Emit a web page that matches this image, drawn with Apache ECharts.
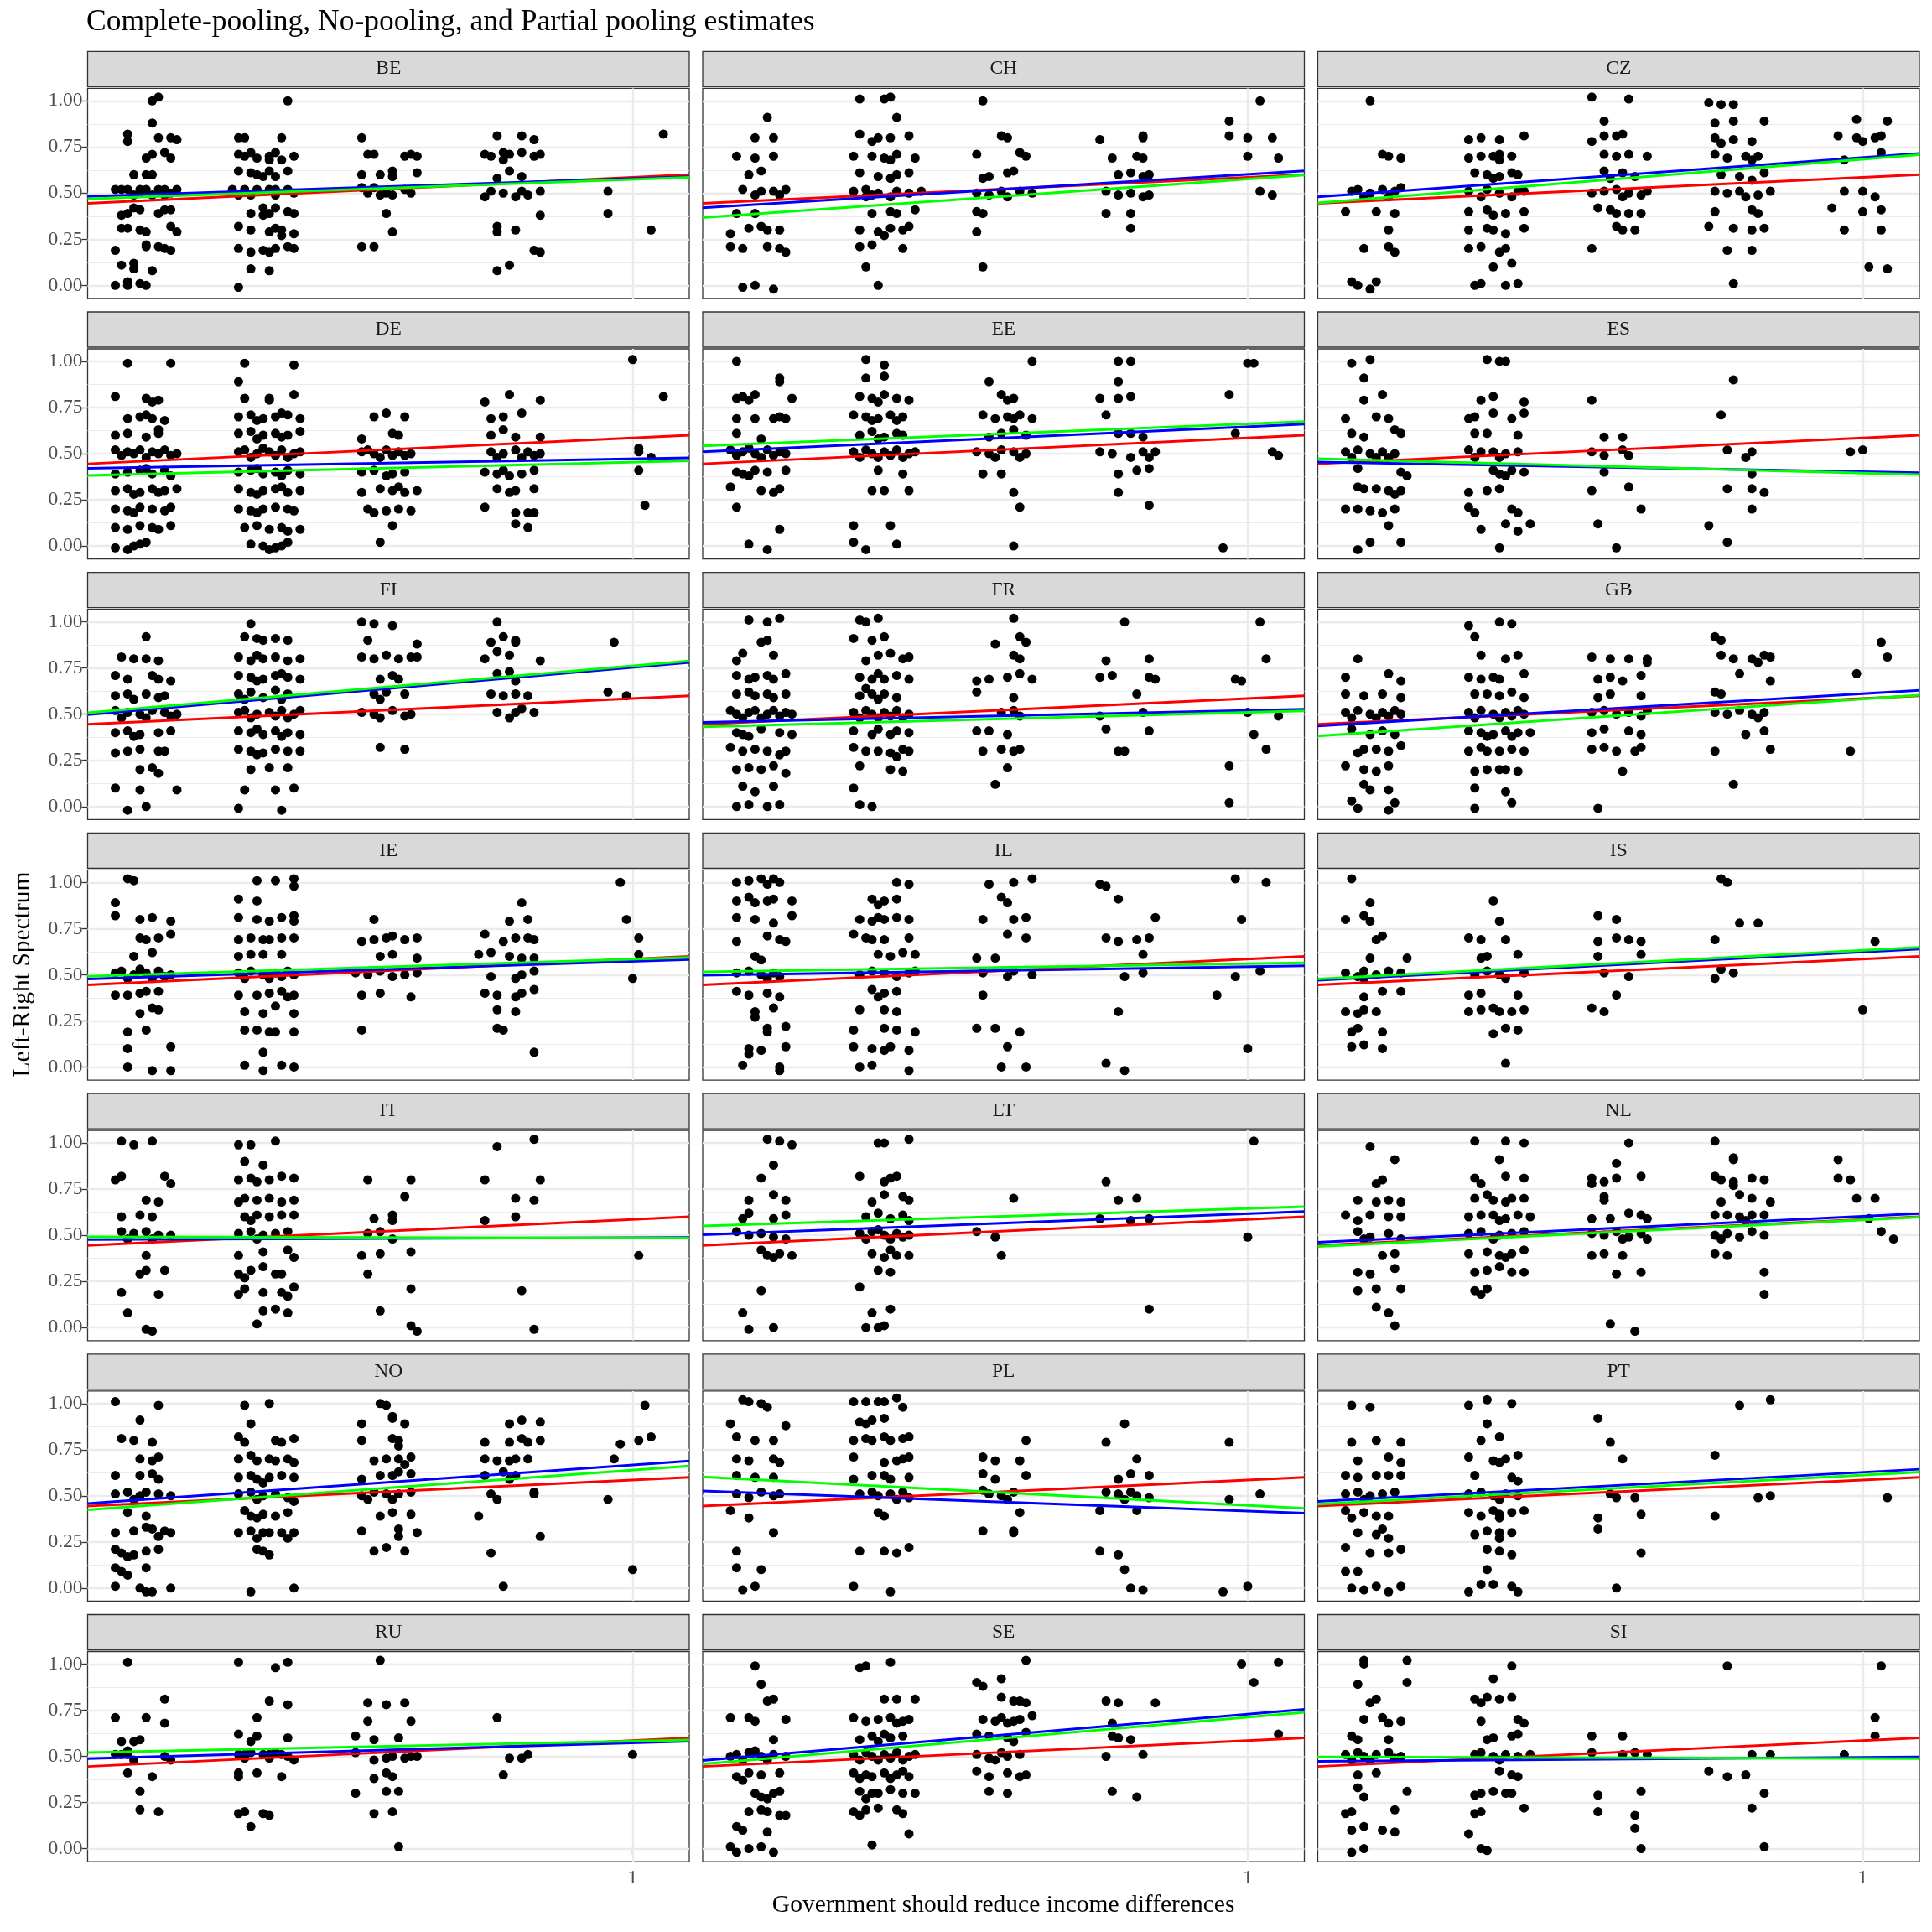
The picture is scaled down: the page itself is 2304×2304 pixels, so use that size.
<!DOCTYPE html>
<html><head><meta charset="utf-8">
<script src="https://cdn.jsdelivr.net/npm/echarts@6/dist/echarts.min.js"></script>
<style>html,body{margin:0;padding:0;background:#fff}#c{width:2304px;height:2304px}</style>
</head><body><div id="c"></div>
<script>
const countries = ['BE','CH','CZ','DE','EE','ES','FI','FR','GB','IE','IL','IS','IT','LT','NL','NO','PL','PT','RU','SE','SI'];

const P_BE = [[.22,1.0],[.23,1.02],[.22,.88],[.18,.82],[.18,.78],[.23,.80],[.25,.80],[.26,.79],[.21,.69],[.22,.71],[.24,.72],[.25,.69],[.19,.60],[.21,.60],[.22,.60],
[.16,.52],[.17,.52],[.18,.52],[.20,.52],[.21,.52],[.23,.52],[.24,.52],[.26,.52],[.19,.49],[.22,.49],[.24,.49],[.2,.5],[.25,.5],
[.18,.39],[.19,.42],[.2,.41],[.23,.39],[.24,.41],[.25,.41],[.17,.38],[.17,.31],[.18,.31],[.2,.3],[.25,.32],[.26,.29],[.21,.29],
[.16,.19],[.21,.21],[.21,.22],[.23,.21],[.24,.2],[.25,.19],[.17,.11],[.19,.09],[.22,.08],[.19,.12],[.16,0],[.18,0],[.18,.02],[.2,.01],[.21,0],
[.44,1.0],[.36,.80],[.37,.80],[.43,.80],[.36,.71],[.37,.70],[.39,.69],[.41,.70],[.42,.72],[.43,.68],[.45,.7],[.38,.72],[.41,.68],
[.36,.62],[.38,.61],[.39,.60],[.41,.62],[.42,.59],[.44,.62],[.4,.59],[.35,.52],[.37,.52],[.39,.52],[.41,.52],[.42,.52],[.44,.52],[.45,.5],[.38,.49],[.42,.49],[.36,.49],
[.38,.39],[.4,.42],[.41,.39],[.42,.42],[.44,.4],[.45,.39],[.4,.38],[.36,.32],[.38,.3],[.41,.29],[.42,.31],[.43,.3],[.45,.28],[.43,.27],
[.36,.2],[.38,.18],[.4,.19],[.42,.2],[.44,.21],[.45,.2],[.41,.18],[.38,.09],[.41,.08],[.36,-.01],
[.56,.8],[.57,.71],[.58,.71],[.63,.7],[.64,.71],[.65,.7],[.56,.6],[.59,.6],[.61,.62],[.61,.59],[.65,.61],
[.56,.53],[.57,.5],[.59,.49],[.6,.5],[.61,.49],[.63,.52],[.64,.5],[.58,.53],[.6,.39],[.61,.29],[.56,.21],[.58,.21],
[.78,.81],[.82,.81],[.84,.79],[.76,.71],[.77,.7],[.79,.72],[.8,.71],[.82,.72],[.84,.7],[.85,.71],[.79,.68],[.78,.58],[.8,.62],[.82,.59],
[.76,.48],[.77,.51],[.79,.5],[.81,.48],[.82,.51],[.83,.49],[.85,.51],[.85,.38],[.78,.29],[.81,.3],[.78,.32],[.84,.19],[.85,.18],[.8,.11],[.78,.08],
[1.05,.82],[.96,.51],[.96,.39],[1.03,.3]];

const P_CH = [[.22,.91],[.2,.8],[.23,.8],[.17,.7],[.2,.69],[.23,.7],[.19,.6],[.21,.62],[.18,.52],[.21,.51],[.23,.51],[.25,.52],[.2,.49],[.24,.49],
[.17,.39],[.2,.39],[.19,.31],[.22,.3],[.24,.3],[.16,.28],[.21,.32],[.16,.21],[.18,.2],[.22,.21],[.25,.18],[.24,.2],[.18,-.01],[.2,0],[.23,-.02],
[.37,1.01],[.41,1.01],[.42,1.02],[.43,.91],[.37,.82],[.4,.8],[.42,.8],[.45,.81],[.39,.78],[.36,.7],[.39,.7],[.41,.69],[.43,.71],[.46,.69],[.42,.68],
[.37,.61],[.4,.59],[.43,.6],[.45,.61],[.42,.58],[.36,.51],[.38,.52],[.4,.5],[.43,.51],[.45,.5],[.47,.51],[.39,.49],[.42,.48],[.38,.48],
[.39,.39],[.42,.4],[.43,.39],[.46,.41],[.37,.3],[.4,.29],[.42,.31],[.44,.3],[.45,.32],[.41,.27],[.37,.21],[.39,.22],[.44,.2],[.38,.1],[.4,0],
[.57,1.0],[.6,.81],[.61,.8],[.56,.71],[.63,.72],[.64,.7],[.57,.58],[.58,.59],[.61,.61],[.62,.62],[.56,.5],[.58,.49],[.6,.51],[.63,.51],[.65,.5],[.61,.48],
[.56,.4],[.57,.39],[.56,.29],[.57,.1],
[.76,.79],[.83,.8],[.83,.81],[.78,.69],[.82,.7],[.83,.69],[.79,.6],[.81,.61],[.83,.59],[.84,.6],[.77,.51],[.79,.49],[.81,.5],[.84,.49],[.83,.48],
[.77,.39],[.81,.39],[.81,.31],
[1.02,1.0],[.97,.89],[.97,.81],[1.0,.8],[1.04,.8],[1.0,.7],[1.05,.69],[1.02,.51],[1.04,.49]];

const P_CZ = [[.2,1.0],[.23,.7],[.25,.69],[.22,.71],[.17,.51],[.18,.52],[.2,.5],[.22,.52],[.24,.51],[.25,.53],[.19,.48],[.23,.48],
[.16,.4],[.21,.4],[.24,.39],[.23,.3],[.19,.2],[.23,.21],[.24,.18],[.17,.02],[.18,0],[.2,-.02],[.21,.02],
[.36,.79],[.38,.8],[.41,.79],[.45,.81],[.36,.69],[.38,.7],[.4,.7],[.41,.71],[.43,.7],[.41,.68],[.37,.61],[.39,.6],[.41,.59],[.43,.61],[.44,.6],[.4,.58],
[.36,.51],[.39,.52],[.41,.5],[.44,.51],[.45,.51],[.38,.48],[.43,.48],[.36,.4],[.39,.41],[.42,.39],[.45,.4],[.4,.38],
[.36,.3],[.39,.31],[.4,.3],[.42,.28],[.45,.31],[.36,.2],[.38,.21],[.41,.18],[.42,.2],[.4,.1],[.43,.12],[.37,0],[.38,.01],[.42,0],[.44,.01],
[.56,1.02],[.62,1.01],[.58,.89],[.56,.78],[.58,.81],[.6,.81],[.61,.82],[.58,.71],[.6,.7],[.62,.71],[.65,.7],[.58,.62],[.61,.61],[.63,.59],[.59,.58],
[.56,.5],[.58,.51],[.6,.52],[.62,.5],[.64,.49],[.65,.51],[.61,.48],[.57,.42],[.59,.41],[.6,.39],[.62,.39],[.64,.39],[.6,.32],[.61,.3],[.63,.3],[.56,.2],
[.75,.99],[.77,.98],[.79,.98],[.76,.88],[.79,.89],[.84,.89],[.76,.8],[.79,.79],[.82,.78],[.77,.77],[.76,.71],[.78,.69],[.81,.7],[.83,.7],[.82,.68],
[.77,.6],[.8,.59],[.84,.61],[.82,.57],[.76,.51],[.78,.5],[.8,.51],[.83,.49],[.85,.51],[.81,.48],[.76,.4],[.82,.41],[.83,.39],
[.75,.32],[.79,.31],[.82,.3],[.84,.31],[.78,.19],[.82,.19],[.79,.01],
[.99,.9],[1.04,.89],[.96,.81],[.99,.8],[1.02,.8],[1.03,.81],[1.0,.78],[.97,.68],[1.03,.72],[.97,.51],[1.0,.51],[1.02,.48],
[.95,.42],[1.0,.4],[1.03,.41],[.97,.3],[1.03,.3],[1.01,.1],[1.04,.09]];

const P_DE = [[.18,.99],[.25,.99],[.16,.81],[.21,.8],[.22,.78],[.23,.79],[.18,.69],[.2,.7],[.21,.71],[.22,.69],[.24,.68],[.16,.6],[.18,.61],[.21,.59],[.23,.61],[.23,.63],
[.16,.52],[.18,.51],[.2,.52],[.22,.51],[.24,.52],[.26,.5],[.17,.49],[.21,.48],[.25,.49],[.19,.5],[.23,.5],
[.16,.39],[.18,.4],[.2,.41],[.22,.39],[.24,.41],[.25,.38],[.21,.42],[.16,.3],[.18,.31],[.2,.29],[.22,.31],[.24,.3],[.26,.31],[.19,.28],[.23,.29],
[.16,.2],[.18,.19],[.2,.21],[.22,.2],[.24,.19],[.19,.18],[.25,.21],[.16,.1],[.18,.09],[.2,.11],[.22,.1],[.23,.09],[.25,.11],
[.16,-.01],[.18,-.02],[.19,0],[.2,.01],[.21,0.02],
[.37,.99],[.45,.98],[.36,.89],[.37,.8],[.41,.8],[.41,.79],[.45,.82],[.36,.7],[.38,.71],[.4,.69],[.42,.7],[.44,.71],[.46,.69],[.39,.68],[.43,.72],
[.36,.61],[.38,.62],[.4,.6],[.42,.61],[.44,.6],[.46,.62],[.39,.58],[.43,.59],[.36,.51],[.37,.52],[.39,.5],[.41,.51],[.43,.52],[.45,.5],[.46,.51],[.38,.48],[.42,.49],[.44,.48],[.4,.53],
[.36,.4],[.38,.41],[.4,.39],[.42,.4],[.44,.41],[.46,.39],[.39,.42],[.43,.38],[.36,.31],[.38,.29],[.4,.3],[.42,.31],[.44,.29],[.46,.3],[.39,.28],[.43,.32],
[.36,.2],[.38,.19],[.4,.2],[.42,.21],[.44,.2],[.39,.18],[.45,.19],[.37,.1],[.39,.11],[.41,.09],[.43,.1],[.44,.08],[.46,.09],
[.38,.01],[.4,0],[.42,-.01],[.43,0],[.44,.02],[.41,-.02],
[.58,.7],[.6,.72],[.63,.7],[.56,.58],[.61,.61],[.62,.6],[.56,.51],[.58,.5],[.6,.52],[.62,.51],[.64,.5],[.59,.48],[.63,.49],[.57,.52],[.61,.49],
[.56,.4],[.58,.41],[.61,.39],[.63,.4],[.6,.38],[.56,.29],[.59,.31],[.61,.3],[.63,.29],[.65,.3],[.62,.32],[.57,.2],[.6,.19],[.62,.2],[.64,.19],[.58,.18],[.61,.11],[.59,.02],
[.76,.78],[.8,.82],[.85,.79],[.77,.69],[.79,.7],[.82,.72],[.77,.6],[.79,.63],[.81,.59],[.85,.59],[.77,.51],[.79,.5],[.81,.52],[.83,.51],[.85,.5],[.78,.48],[.82,.48],[.84,.49],
[.76,.4],[.78,.39],[.8,.38],[.82,.39],[.84,.41],[.79,.41],[.78,.31],[.81,.3],[.84,.31],[.8,.29],[.76,.21],[.81,.18],[.83,.18],[.84,.18],[.81,.12],[.83,.1],
[1.0,1.01],[1.05,.81],[1.01,.51],[1.03,.48],[1.01,.53],[1.01,.41],[1.02,.22]];

const P_EE = [[.17,1.0],[.24,.91],[.24,.89],[.17,.8],[.18,.81],[.19,.79],[.2,.82],[.26,.8],[.17,.69],[.2,.69],[.23,.69],[.24,.7],[.25,.69],[.17,.61],[.21,.58],
[.16,.52],[.18,.51],[.2,.5],[.22,.52],[.24,.51],[.25,.5],[.17,.49],[.21,.48],[.23,.49],[.19,.53],[.17,.4],[.18,.39],[.2,.41],[.22,.4],[.25,.41],[.19,.38],
[.16,.32],[.21,.3],[.23,.29],[.24,.31],[.17,.21],[.24,.09],[.19,.01],[.22,-.02],
[.38,1.01],[.41,.98],[.38,.91],[.41,.92],[.37,.81],[.39,.8],[.41,.82],[.43,.8],[.45,.79],[.4,.78],[.36,.71],[.38,.7],[.4,.69],[.42,.71],[.44,.7],[.39,.68],[.43,.68],
[.37,.6],[.39,.62],[.41,.59],[.43,.61],[.44,.6],[.4,.58],[.36,.51],[.38,.52],[.39,.5],[.41,.51],[.43,.52],[.45,.5],[.37,.48],[.4,.48],[.42,.49],[.44,.48],[.46,.51],
[.4,.41],[.44,.39],[.39,.3],[.41,.3],[.45,.3],[.36,.11],[.42,.11],[.36,.02],[.38,-.02],[.43,.01],
[.65,1.0],[.58,.89],[.6,.82],[.61,.79],[.62,.8],[.57,.71],[.59,.69],[.61,.7],[.62,.69],[.63,.71],[.65,.69],[.58,.59],[.6,.61],[.62,.63],[.64,.6],
[.56,.51],[.58,.5],[.6,.52],[.62,.51],[.64,.5],[.59,.48],[.63,.48],[.57,.39],[.6,.39],[.62,.29],[.63,.21],[.62,0],
[.79,1.0],[.81,1.0],[.79,.89],[.76,.8],[.79,.8],[.81,.81],[.77,.71],[.79,.61],[.81,.61],[.83,.59],[.76,.51],[.78,.5],[.81,.48],[.83,.51],[.85,.51],[.84,.48],
[.79,.39],[.82,.41],[.84,.42],[.79,.29],[.84,.22],
[1.0,.99],[1.01,.99],[.97,.82],[.98,.61],[1.04,.51],[1.05,.49],[.96,-.01]];

const P_ES = [[.17,.99],[.2,1.01],[.19,.91],[.19,.79],[.22,.82],[.16,.69],[.21,.7],[.23,.69],[.17,.61],[.19,.59],[.24,.63],[.25,.61],
[.16,.51],[.18,.52],[.2,.5],[.22,.51],[.24,.5],[.17,.48],[.21,.48],[.23,.48],[.18,.42],[.25,.4],[.26,.38],
[.18,.32],[.19,.31],[.21,.31],[.23,.3],[.25,.3],[.24,.28],[.16,.2],[.18,.2],[.2,.19],[.22,.18],[.24,.2],[.23,.11],[.18,-.02],[.2,.02],[.25,.02],
[.39,1.01],[.41,1.0],[.42,1.0],[.38,.79],[.4,.81],[.45,.78],[.36,.69],[.37,.7],[.4,.72],[.43,.69],[.45,.72],[.37,.61],[.39,.61],[.44,.6],
[.36,.52],[.38,.51],[.4,.51],[.42,.5],[.44,.51],[.41,.48],[.37,.48],[.4,.41],[.41,.39],[.43,.41],[.45,.4],[.42,.38],
[.36,.29],[.39,.3],[.41,.31],[.36,.21],[.37,.18],[.43,.2],[.44,.18],[.38,.09],[.42,.12],[.44,.08],[.46,.12],[.41,-.01],
[.56,.79],[.58,.59],[.61,.59],[.56,.51],[.58,.49],[.61,.52],[.62,.49],[.58,.4],[.56,.3],[.62,.32],[.64,.2],[.57,.12],[.6,-.01],
[.79,.9],[.77,.71],[.78,.52],[.81,.48],[.82,.51],[.82,.39],[.78,.31],[.82,.31],[.84,.29],[.82,.2],[.75,.11],[.78,.02],
[.98,.51],[1.0,.52]];

const P_FI = [[.21,.92],[.17,.81],[.19,.8],[.21,.8],[.23,.79],[.16,.71],[.18,.69],[.22,.71],[.23,.69],[.25,.68],[.16,.6],[.18,.61],[.21,.61],[.23,.59],[.24,.6],[.19,.58],
[.16,.52],[.18,.51],[.2,.5],[.22,.52],[.24,.51],[.26,.5],[.17,.48],[.21,.48],[.25,.49],[.16,.4],[.18,.41],[.2,.39],[.23,.4],[.25,.41],[.19,.38],
[.16,.29],[.18,.3],[.2,.31],[.23,.3],[.24,.3],[.2,.2],[.22,.21],[.23,.18],[.16,.1],[.2,.09],[.26,.09],[.18,-.02],[.21,0],
[.38,.99],[.37,.92],[.39,.91],[.4,.9],[.42,.91],[.44,.9],[.36,.81],[.38,.79],[.4,.8],[.42,.81],[.44,.79],[.46,.8],[.39,.82],
[.36,.71],[.38,.7],[.4,.69],[.42,.71],[.44,.7],[.46,.69],[.39,.68],[.43,.72],[.36,.61],[.38,.62],[.4,.59],[.42,.63],[.44,.61],[.37,.58],[.43,.58],
[.36,.51],[.37,.52],[.39,.5],[.41,.51],[.43,.52],[.45,.5],[.46,.52],[.38,.48],[.42,.49],[.44,.48],[.36,.41],[.38,.4],[.4,.39],[.42,.41],[.44,.4],[.46,.39],[.39,.42],[.43,.38],
[.36,.31],[.38,.3],[.4,.29],[.42,.31],[.44,.3],[.46,.3],[.39,.28],[.38,.2],[.41,.21],[.44,.21],[.37,.09],[.42,.09],[.45,.1],[.36,-.01],[.43,-.02],
[.56,1.0],[.58,.99],[.61,.98],[.57,.9],[.65,.88],[.56,.81],[.58,.8],[.6,.82],[.62,.8],[.64,.81],[.65,.81],[.59,.69],[.61,.71],[.62,.69],
[.58,.61],[.6,.62],[.63,.61],[.59,.58],[.56,.51],[.58,.5],[.61,.52],[.63,.49],[.64,.5],[.59,.48],[.59,.32],[.63,.31],
[.78,1.0],[.77,.89],[.79,.92],[.81,.9],[.81,.89],[.76,.8],[.78,.84],[.8,.82],[.85,.79],[.78,.72],[.8,.73],[.81,.68],[.77,.61],[.79,.6],[.81,.61],[.83,.6],
[.78,.51],[.81,.51],[.82,.53],[.84,.51],[.8,.48],
[.97,.89],[.96,.62],[.99,.6]];

const P_FR = [[.19,1.01],[.22,1.0],[.24,1.02],[.21,.89],[.22,.9],[.17,.79],[.18,.83],[.23,.82],[.17,.71],[.19,.69],[.2,.7],[.22,.71],[.23,.69],[.25,.72],
[.17,.61],[.19,.62],[.2,.6],[.22,.61],[.23,.59],[.25,.61],[.16,.52],[.17,.5],[.19,.51],[.2,.52],[.22,.5],[.23,.52],[.25,.51],[.18,.48],[.21,.48],[.24,.49],[.26,.5],
[.17,.4],[.18,.39],[.21,.42],[.24,.4],[.26,.39],[.19,.38],[.16,.32],[.18,.3],[.2,.31],[.22,.3],[.25,.3],[.24,.28],[.17,.2],[.19,.21],[.21,.2],[.23,.22],[.25,.18],
[.18,.11],[.2,.08],[.23,.11],[.17,0],[.19,.01],[.22,0],[.24,.01],
[.37,1.01],[.38,1.0],[.4,1.02],[.36,.91],[.39,.9],[.41,.92],[.38,.79],[.4,.82],[.42,.83],[.44,.8],[.45,.81],[.37,.7],[.39,.69],[.41,.69],[.43,.71],[.45,.69],[.4,.72],
[.37,.6],[.39,.61],[.41,.61],[.43,.59],[.4,.58],[.38,.64],[.36,.51],[.38,.52],[.39,.5],[.41,.51],[.43,.52],[.45,.5],[.37,.48],[.4,.48],[.42,.49],[.44,.48],
[.36,.41],[.39,.39],[.4,.42],[.42,.39],[.43,.41],[.45,.4],[.36,.32],[.38,.3],[.4,.3],[.42,.29],[.44,.31],[.45,.3],[.43,.27],[.37,.22],[.42,.2],[.44,.19],[.36,.1],[.37,.01],[.39,0],
[.62,1.02],[.59,.88],[.63,.92],[.64,.89],[.62,.82],[.63,.8],[.56,.68],[.58,.69],[.61,.7],[.63,.72],[.65,.69],[.56,.62],[.62,.59],[.6,.51],[.62,.52],[.63,.49],
[.56,.41],[.58,.41],[.61,.39],[.57,.3],[.6,.31],[.62,.3],[.63,.31],[.61,.21],[.59,.12],
[.8,1.0],[.77,.79],[.84,.8],[.76,.7],[.78,.71],[.84,.7],[.85,.69],[.82,.61],[.76,.49],[.83,.51],[.77,.42],[.84,.41],[.79,.3],[.8,.3],
[1.02,1.0],[1.03,.8],[.98,.69],[.99,.68],[1.0,.51],[1.05,.49],[1.01,.39],[1.03,.31],[.97,.22],[.97,.02]];

const P_GB = [[.18,.8],[.16,.7],[.23,.72],[.25,.68],[.16,.61],[.19,.6],[.22,.61],[.25,.59],[.16,.51],[.18,.52],[.2,.5],[.22,.51],[.24,.52],[.25,.5],[.17,.48],[.21,.48],[.23,.49],
[.17,.42],[.2,.39],[.22,.41],[.24,.39],[.18,.29],[.19,.31],[.21,.31],[.23,.3],[.25,.33],[.16,.22],[.19,.2],[.21,.19],[.23,.22],[.19,.12],[.2,.09],[.23,.09],
[.17,.03],[.18,-.01],[.23,-.02],[.24,.02],
[.36,.98],[.41,1.0],[.43,.99],[.37,.92],[.38,.82],[.42,.8],[.44,.82],[.36,.7],[.38,.69],[.4,.7],[.41,.69],[.45,.72],[.37,.61],[.39,.61],[.41,.6],[.43,.62],[.45,.59],
[.36,.51],[.38,.52],[.4,.5],[.42,.51],[.44,.52],[.45,.5],[.37,.48],[.41,.48],[.43,.49],[.36,.41],[.38,.4],[.4,.39],[.42,.41],[.44,.4],[.46,.4],[.39,.38],[.43,.38],
[.36,.3],[.38,.32],[.39,.3],[.41,.3],[.43,.31],[.45,.3],[.37,.19],[.39,.2],[.41,.2],[.42,.2],[.44,.19],[.37,.1],[.42,.08],[.37,-.01],[.43,.02],
[.56,.81],[.59,.8],[.62,.8],[.65,.8],[.65,.78],[.57,.69],[.59,.7],[.61,.68],[.64,.71],[.57,.59],[.59,.61],[.64,.6],[.56,.51],[.58,.52],[.6,.5],[.62,.51],[.64,.49],[.65,.52],
[.56,.4],[.58,.42],[.62,.41],[.64,.39],[.56,.31],[.58,.32],[.6,.3],[.63,.3],[.64,.32],[.61,.19],[.57,-.01],
[.76,.92],[.77,.9],[.77,.82],[.79,.8],[.82,.8],[.84,.82],[.85,.81],[.83,.78],[.8,.72],[.85,.68],[.76,.62],[.77,.61],[.76,.51],[.78,.5],[.8,.52],[.82,.5],[.84,.51],[.83,.48],
[.81,.39],[.84,.41],[.76,.3],[.85,.31],[.79,.12],
[1.03,.89],[1.04,.81],[.99,.72],[.98,.3]];

const P_IE = [[.18,1.02],[.19,1.01],[.16,.89],[.16,.82],[.2,.8],[.22,.81],[.25,.79],[.2,.7],[.21,.69],[.23,.7],[.25,.72],[.19,.6],[.22,.62],
[.16,.51],[.17,.52],[.19,.5],[.21,.51],[.23,.52],[.25,.5],[.18,.48],[.22,.48],[.24,.49],[.2,.53],[.16,.39],[.18,.39],[.2,.4],[.21,.41],[.23,.41],
[.2,.29],[.22,.32],[.23,.31],[.18,.19],[.21,.2],[.18,.1],[.25,.11],[.18,0],[.22,-.02],[.25,-.02],
[.39,1.01],[.42,1.01],[.45,1.02],[.45,.98],[.36,.91],[.39,.9],[.36,.81],[.39,.8],[.41,.79],[.43,.81],[.45,.82],[.45,.79],[.36,.69],[.38,.7],[.4,.69],[.41,.69],[.43,.7],[.45,.7],
[.36,.6],[.38,.61],[.4,.61],[.43,.61],[.36,.51],[.38,.52],[.4,.5],[.42,.51],[.44,.52],[.45,.5],[.37,.48],[.41,.48],[.43,.49],
[.36,.39],[.39,.39],[.41,.4],[.43,.41],[.45,.39],[.44,.38],[.37,.3],[.4,.29],[.42,.33],[.45,.29],[.37,.2],[.39,.2],[.41,.19],[.42,.19],[.45,.19],[.4,.08],
[.37,.01],[.4,-.02],[.43,.01],[.45,0],
[.58,.8],[.56,.68],[.58,.69],[.6,.7],[.61,.71],[.63,.69],[.65,.7],[.59,.6],[.61,.61],[.65,.59],[.55,.51],[.57,.5],[.59,.52],[.61,.49],[.63,.5],[.65,.51],
[.56,.39],[.59,.4],[.64,.38],[.56,.2],
[.82,.89],[.8,.79],[.83,.8],[.76,.72],[.79,.68],[.81,.7],[.83,.7],[.84,.69],[.75,.61],[.77,.62],[.8,.6],[.82,.59],[.84,.59],[.77,.49],[.82,.5],[.84,.52],[.81,.48],
[.76,.4],[.78,.39],[.81,.38],[.82,.4],[.84,.42],[.78,.31],[.81,.3],[.78,.21],[.79,.2],[.84,.08],
[.98,1.0],[.99,.8],[1.01,.7],[1.01,.61],[1.0,.48]];

const P_IL = [[.17,1.0],[.19,1.01],[.21,1.02],[.22,.99],[.24,1.0],[.23,1.02],[.17,.9],[.19,.92],[.2,.89],[.22,.9],[.23,.91],[.26,.9],[.17,.81],[.2,.8],[.26,.82],[.23,.78],
[.17,.68],[.22,.71],[.24,.69],[.25,.68],[.2,.6],[.21,.58],[.17,.51],[.19,.52],[.21,.5],[.23,.51],[.24,.49],[.22,.48],[.17,.41],[.19,.39],[.22,.4],[.24,.38],
[.2,.3],[.23,.32],[.2,.27],[.22,.21],[.25,.22],[.22,.19],[.19,.1],[.21,.09],[.25,.11],[.19,.07],[.18,.01],[.24,0],[.24,-.02],
[.43,1.0],[.45,.99],[.39,.91],[.41,.9],[.43,.91],[.4,.88],[.37,.8],[.39,.79],[.4,.81],[.41,.8],[.43,.81],[.45,.8],[.36,.72],[.38,.7],[.39,.69],[.41,.69],[.45,.7],
[.4,.61],[.42,.6],[.44,.62],[.46,.61],[.37,.5],[.39,.52],[.41,.51],[.43,.49],[.45,.51],[.46,.52],[.39,.42],[.41,.4],[.43,.41],[.4,.38],
[.37,.31],[.41,.31],[.43,.3],[.36,.2],[.41,.21],[.46,.19],[.43,.2],[.36,.11],[.39,.1],[.41,.09],[.42,.11],[.45,.09],[.37,0],[.39,.01],[.45,-.02],
[.58,.99],[.62,1.0],[.65,1.02],[.6,.92],[.61,.89],[.57,.8],[.62,.8],[.64,.81],[.61,.72],[.64,.7],[.56,.59],[.59,.59],[.57,.51],[.61,.49],[.65,.5],[.62,.52],
[.57,.39],[.56,.21],[.59,.21],[.63,.19],[.61,.11],[.6,0],[.64,0],
[.76,.99],[.77,.98],[.79,.91],[.85,.81],[.77,.7],[.79,.68],[.82,.69],[.84,.7],[.83,.61],[.8,.49],[.83,.51],[.79,.3],[.77,.02],[.8,-.02],
[.98,1.02],[1.03,1.0],[.99,.8],[.98,.49],[1.02,.52],[.95,.39],[1.0,.1]];

const P_IS = [[.17,1.02],[.2,.89],[.16,.8],[.19,.82],[.2,.79],[.21,.69],[.22,.71],[.2,.59],[.26,.59],[.16,.51],[.18,.49],[.19,.52],[.21,.5],[.23,.52],[.25,.51],[.19,.48],
[.19,.38],[.22,.41],[.25,.41],[.16,.3],[.18,.29],[.19,.31],[.21,.3],[.17,.19],[.18,.21],[.22,.19],[.17,.11],[.19,.12],[.22,.1],
[.4,.9],[.41,.79],[.36,.7],[.38,.69],[.42,.69],[.38,.59],[.39,.6],[.44,.61],[.37,.5],[.39,.52],[.41,.5],[.45,.51],[.42,.48],[.36,.39],[.38,.4],[.44,.39],
[.36,.3],[.38,.31],[.4,.32],[.41,.3],[.43,.3],[.45,.31],[.4,.18],[.42,.21],[.44,.2],[.42,.02],
[.57,.82],[.6,.8],[.57,.68],[.6,.7],[.62,.69],[.64,.68],[.57,.6],[.64,.61],[.58,.51],[.62,.49],[.6,.39],[.56,.32],[.58,.3],
[.77,1.02],[.78,1.0],[.8,.78],[.83,.78],[.76,.69],[.77,.53],[.79,.51],[.76,.48],
[1.02,.68],[1.0,.31]];

const P_IT = [[.17,1.01],[.19,.99],[.22,1.01],[.16,.8],[.17,.82],[.24,.82],[.25,.78],[.21,.69],[.23,.68],[.17,.6],[.2,.61],[.22,.6],
[.17,.52],[.19,.51],[.21,.52],[.23,.5],[.25,.5],[.18,.48],[.22,.48],[.21,.39],[.2,.29],[.21,.31],[.24,.31],[.17,.19],[.23,.18],[.18,.08],[.21,-.01],[.22,-.02],
[.36,.99],[.38,.99],[.42,1.01],[.37,.9],[.4,.88],[.36,.8],[.38,.81],[.39,.79],[.41,.8],[.43,.82],[.45,.81],[.36,.68],[.37,.7],[.39,.69],[.41,.7],[.43,.68],[.45,.69],
[.37,.6],[.39,.61],[.41,.6],[.43,.61],[.45,.61],[.38,.58],[.36,.51],[.38,.52],[.4,.5],[.42,.51],[.44,.52],[.39,.48],[.36,.39],[.4,.41],[.44,.42],[.45,.38],
[.36,.29],[.38,.31],[.4,.33],[.42,.29],[.43,.29],[.37,.27],[.36,.18],[.37,.21],[.4,.19],[.43,.19],[.45,.22],[.44,.17],[.4,.09],[.42,.1],[.44,.08],[.39,.02],
[.57,.8],[.64,.8],[.63,.71],[.58,.59],[.61,.61],[.61,.58],[.57,.51],[.59,.52],[.61,.48],[.56,.39],[.59,.4],[.64,.41],[.57,.29],[.64,.21],[.59,.09],[.64,.01],[.65,-.02],
[.78,.98],[.84,1.02],[.76,.8],[.85,.8],[.81,.7],[.84,.69],[.76,.58],[.81,.6],[.82,.2],[.84,-.01],
[1.01,.39]];

const P_LT = [[.22,1.02],[.24,1.01],[.26,.99],[.23,.88],[.21,.81],[.19,.69],[.23,.72],[.25,.69],[.18,.59],[.19,.62],[.23,.59],[.25,.61],
[.17,.52],[.19,.5],[.21,.51],[.23,.49],[.25,.48],[.21,.42],[.22,.39],[.24,.4],[.26,.39],[.23,.38],[.21,.2],[.18,.08],[.19,-.01],[.23,0],
[.4,1.0],[.41,1.0],[.45,1.02],[.37,.82],[.41,.79],[.42,.81],[.43,.82],[.39,.68],[.41,.72],[.44,.71],[.45,.69],[.38,.6],[.4,.62],[.42,.59],[.44,.61],[.45,.58],
[.37,.51],[.39,.52],[.41,.5],[.43,.51],[.45,.5],[.38,.48],[.42,.48],[.44,.49],[.4,.53],[.39,.4],[.42,.42],[.43,.39],[.45,.39],[.41,.38],
[.4,.31],[.42,.3],[.37,.22],[.39,.08],[.42,.1],[.38,0],[.4,0],[.41,.01],
[.62,.7],[.56,.52],[.59,.49],[.6,.39],
[.77,.79],[.79,.69],[.82,.7],[.76,.59],[.81,.58],[.84,.59],[.84,.1],
[1.01,1.01],[1.0,.49]];

const P_NL = [[.2,.98],[.24,.91],[.21,.78],[.22,.8],[.18,.69],[.21,.68],[.23,.69],[.25,.68],[.16,.61],[.18,.58],[.2,.61],[.23,.6],[.25,.6],
[.18,.52],[.2,.49],[.23,.51],[.25,.48],[.19,.48],[.22,.39],[.24,.4],[.18,.3],[.2,.29],[.24,.32],[.18,.2],[.21,.21],[.25,.21],[.21,.11],[.23,.08],[.24,.01],
[.37,1.01],[.42,1.01],[.45,1.0],[.41,.91],[.37,.81],[.42,.82],[.45,.81],[.38,.78],[.37,.7],[.39,.72],[.4,.69],[.43,.7],[.45,.7],[.42,.68],
[.36,.6],[.38,.61],[.4,.61],[.42,.59],[.44,.61],[.46,.6],[.41,.58],[.36,.51],[.38,.52],[.41,.5],[.43,.51],[.45,.52],[.4,.48],
[.36,.4],[.39,.41],[.41,.39],[.43,.4],[.45,.42],[.42,.38],[.37,.3],[.39,.31],[.41,.33],[.43,.3],[.45,.3],[.37,.2],[.39,.21],[.38,.18],
[.62,1.0],[.6,.89],[.56,.81],[.58,.79],[.6,.81],[.64,.82],[.56,.78],[.58,.71],[.58,.69],[.56,.59],[.59,.59],[.62,.62],[.64,.61],[.65,.59],
[.56,.51],[.58,.5],[.6,.52],[.62,.49],[.64,.51],[.65,.48],[.61,.48],[.56,.39],[.58,.4],[.61,.39],[.6,.29],[.64,.3],[.59,.02],[.63,-.02],
[.76,1.01],[.79,.91],[.79,.92],[.76,.82],[.77,.8],[.79,.79],[.82,.81],[.84,.8],[.79,.77],[.77,.68],[.8,.72],[.82,.7],[.85,.68],
[.76,.61],[.78,.61],[.8,.6],[.82,.61],[.84,.61],[.81,.58],[.76,.5],[.78,.51],[.8,.49],[.82,.52],[.84,.5],[.77,.48],[.76,.4],[.78,.39],[.84,.3],[.84,.18],
[.96,.91],[.96,.81],[.98,.8],[.99,.7],[1.02,.7],[1.01,.59],[1.03,.52],[1.05,.48]];

const P_NO = [[.16,1.01],[.23,.99],[.2,.91],[.17,.81],[.19,.8],[.22,.79],[.2,.7],[.22,.69],[.23,.71],[.16,.61],[.2,.61],[.22,.62],[.23,.59],
[.16,.51],[.18,.52],[.2,.5],[.21,.52],[.23,.51],[.25,.5],[.19,.48],[.18,.41],[.21,.39],
[.16,.3],[.19,.31],[.21,.33],[.22,.32],[.24,.31],[.25,.3],[.23,.28],[.16,.21],[.17,.19],[.19,.18],[.21,.2],[.23,.21],[.18,.17],
[.16,.11],[.17,.09],[.18,.07],[.21,.11],[.16,.01],[.2,0],[.22,-.02],[.25,0],[.21,-.02],
[.37,.99],[.41,1.0],[.38,.89],[.36,.82],[.37,.79],[.42,.8],[.43,.79],[.45,.81],[.36,.7],[.38,.72],[.39,.69],[.41,.7],[.42,.69],[.44,.7],[.45,.68],
[.36,.6],[.38,.61],[.39,.59],[.41,.6],[.43,.61],[.45,.6],[.4,.57],[.36,.51],[.38,.52],[.4,.5],[.42,.51],[.44,.49],[.39,.48],[.45,.47],
[.37,.42],[.38,.39],[.4,.4],[.42,.39],[.44,.41],[.39,.38],[.36,.3],[.38,.31],[.4,.3],[.41,.3],[.43,.3],[.45,.3],[.39,.27],[.44,.27],
[.39,.21],[.4,.2],[.41,.18],[.38,-.02],[.45,0],
[.59,1.0],[.6,.99],[.56,.89],[.61,.92],[.61,.93],[.63,.89],[.56,.8],[.61,.81],[.62,.8],[.62,.77],[.58,.69],[.6,.7],[.62,.7],[.64,.71],[.63,.67],
[.56,.59],[.59,.61],[.61,.61],[.62,.63],[.64,.62],[.56,.5],[.58,.52],[.6,.51],[.62,.51],[.64,.52],[.57,.48],[.61,.48],[.59,.39],[.61,.41],[.64,.4],
[.56,.31],[.62,.32],[.62,.28],[.65,.3],[.58,.2],[.6,.22],[.63,.2],
[.8,.89],[.82,.91],[.85,.9],[.76,.79],[.8,.79],[.82,.81],[.83,.79],[.85,.8],[.76,.7],[.78,.69],[.8,.69],[.81,.7],[.83,.7],[.76,.61],[.79,.63],[.81,.61],[.8,.59],
[.77,.51],[.78,.48],[.84,.51],[.84,.52],[.75,.39],[.85,.28],[.77,.19],[.79,.01],
[1.02,.99],[.98,.78],[1.01,.8],[1.03,.82],[.97,.7],[.96,.48],[1.0,.1]];

const P_PL = [[.18,1.02],[.19,1.01],[.21,1.0],[.22,.98],[.16,.89],[.25,.88],[.17,.82],[.2,.8],[.23,.8],[.17,.7],[.19,.69],[.23,.7],[.24,.68],[.17,.61],[.2,.6],[.23,.6],
[.17,.51],[.19,.49],[.21,.52],[.23,.5],[.24,.51],[.16,.42],[.19,.38],[.23,.3],[.17,.2],[.17,.11],[.21,.1],[.18,-.01],[.2,.01],
[.36,1.01],[.38,1.01],[.4,1.01],[.41,1.01],[.43,1.03],[.44,.98],[.37,.9],[.39,.91],[.41,.92],[.38,.89],[.36,.8],[.38,.81],[.39,.8],[.41,.82],[.42,.8],[.44,.81],[.45,.82],
[.36,.71],[.41,.68],[.43,.69],[.44,.7],[.45,.71],[.36,.59],[.39,.61],[.41,.61],[.42,.59],[.45,.6],[.37,.51],[.39,.52],[.4,.5],[.42,.51],[.44,.52],[.45,.49],[.43,.48],
[.4,.41],[.41,.39],[.37,.2],[.41,.2],[.43,.19],[.45,.22],[.36,.01],[.42,-.02],
[.64,.8],[.57,.71],[.59,.69],[.63,.69],[.57,.62],[.59,.59],[.64,.61],[.57,.53],[.58,.51],[.6,.5],[.62,.52],[.61,.48],[.63,.41],[.57,.31],[.62,.3],[.62,.31],
[.8,.89],[.77,.79],[.82,.7],[.79,.59],[.81,.62],[.84,.61],[.77,.52],[.79,.51],[.81,.52],[.82,.5],[.84,.49],[.8,.48],[.76,.42],[.82,.42],[.76,.2],[.79,.18],[.8,.1],[.81,0],[.83,-.01],
[.97,.79],[.97,.48],[1.02,.51],[.96,-.02],[1.0,.01]];

const P_PT = [[.17,.99],[.2,.98],[.17,.79],[.21,.8],[.25,.79],[.18,.69],[.23,.71],[.25,.68],[.16,.61],[.18,.6],[.21,.61],[.23,.61],[.25,.61],
[.16,.51],[.18,.52],[.2,.5],[.22,.51],[.24,.52],[.19,.48],[.16,.42],[.19,.41],[.21,.39],[.23,.39],[.17,.38],[.18,.3],[.21,.29],[.22,.32],[.23,.27],
[.16,.22],[.2,.19],[.23,.19],[.25,.21],[.16,.09],[.18,.09],[.17,0],[.19,-.01],[.21,.01],[.23,-.02],[.25,.01],
[.36,.99],[.39,1.02],[.43,1.0],[.39,.89],[.38,.8],[.41,.82],[.36,.71],[.4,.69],[.42,.7],[.44,.72],[.41,.68],[.37,.61],[.43,.6],[.44,.58],
[.36,.51],[.38,.52],[.4,.5],[.42,.51],[.44,.5],[.41,.48],[.36,.41],[.38,.39],[.4,.42],[.41,.4],[.43,.41],[.45,.42],[.41,.38],
[.37,.29],[.39,.31],[.41,.3],[.43,.3],[.41,.27],[.39,.21],[.41,.2],[.43,.18],[.39,.1],[.36,-.02],[.38,.02],[.4,.02],[.43,.01],[.44,-.02],
[.57,.92],[.59,.79],[.61,.7],[.59,.51],[.6,.49],[.63,.49],[.57,.38],[.64,.4],[.57,.32],[.64,.19],[.6,0],
[.8,.99],[.85,1.02],[.76,.72],[.83,.49],[.85,.5],[.76,.39],
[1.04,.49]];

const P_RU = [[.18,1.01],[.16,.71],[.17,.58],[.19,.58],[.2,.59],[.21,.71],[.24,.68],[.24,.81],[.16,.51],[.17,.51],[.18,.51],[.18,.53],[.19,.48],[.24,.5],[.25,.48],
[.18,.41],[.22,.39],[.2,.31],[.2,.21],[.23,.2],
[.36,1.01],[.42,.98],[.44,1.01],[.41,.8],[.44,.78],[.39,.71],[.36,.62],[.39,.61],[.44,.6],[.38,.58],
[.36,.51],[.37,.51],[.38,.52],[.4,.51],[.41,.51],[.42,.52],[.43,.51],[.44,.5],[.45,.48],[.37,.49],[.41,.49],
[.36,.41],[.36,.39],[.39,.41],[.43,.39],[.36,.19],[.37,.2],[.4,.19],[.41,.18],[.38,.12],
[.59,1.02],[.57,.79],[.6,.78],[.63,.79],[.57,.69],[.64,.69],[.55,.61],[.58,.59],[.62,.6],[.55,.52],[.58,.48],[.6,.49],[.61,.5],[.63,.49],[.64,.5],[.65,.5],
[.6,.41],[.58,.38],[.61,.39],[.55,.3],[.6,.31],[.62,.31],[.58,.19],[.61,.2],[.62,.01],
[.78,.71],[.8,.49],[.82,.49],[.83,.51],[.79,.4],
[1.0,.51]];

const P_SE = [[.2,.99],[.21,.89],[.22,.8],[.23,.81],[.16,.71],[.19,.71],[.2,.69],[.25,.7],[.23,.59],
[.16,.5],[.17,.51],[.19,.52],[.21,.5],[.23,.51],[.25,.5],[.18,.48],[.22,.48],[.2,.53],[.17,.39],[.19,.41],[.21,.4],[.24,.41],[.18,.37],
[.2,.3],[.21,.28],[.23,.3],[.24,.31],[.22,.27],[.19,.2],[.21,.21],[.22,.2],[.24,.18],[.25,.18],[.17,.12],[.18,.1],[.22,.09],
[.16,.01],[.19,0],[.21,.01],[.23,-.02],[.17,-.02],
[.37,.98],[.38,.99],[.42,1.01],[.41,.81],[.43,.81],[.46,.81],[.36,.71],[.38,.69],[.4,.7],[.42,.71],[.44,.69],[.45,.7],[.43,.68],
[.37,.59],[.39,.61],[.41,.62],[.42,.6],[.44,.61],[.4,.58],[.36,.51],[.38,.52],[.39,.5],[.41,.51],[.43,.52],[.45,.5],[.37,.48],[.4,.48],[.42,.49],[.44,.48],[.46,.51],
[.36,.41],[.38,.4],[.39,.39],[.41,.41],[.43,.4],[.45,.39],[.37,.38],[.42,.38],[.44,.42],[.37,.31],[.39,.3],[.4,.3],[.42,.32],[.44,.3],[.46,.3],[.38,.27],
[.36,.2],[.38,.21],[.4,.22],[.43,.21],[.44,.19],[.37,.18],[.45,.08],[.39,.02],
[.64,1.02],[.56,.9],[.6,.92],[.57,.88],[.6,.82],[.62,.8],[.63,.8],[.64,.79],[.57,.7],[.59,.69],[.6,.71],[.62,.69],[.63,.7],[.65,.72],[.61,.68],
[.56,.62],[.58,.61],[.61,.6],[.64,.63],[.62,.58],[.56,.51],[.58,.49],[.6,.52],[.61,.5],[.63,.51],[.59,.48],[.56,.42],[.58,.39],[.61,.41],[.63,.39],[.64,.4],[.58,.31],[.61,.3],
[.77,.8],[.79,.79],[.85,.79],[.78,.68],[.78,.61],[.79,.6],[.81,.59],[.77,.5],[.83,.51],[.78,.31],[.82,.28],
[.99,1.0],[1.05,1.01],[1.01,.9],[1.05,.62]];

const P_SI = [[.19,1.02],[.19,1.0],[.26,1.02],[.18,.89],[.26,.9],[.2,.79],[.21,.81],[.19,.7],[.22,.71],[.23,.68],[.25,.69],[.17,.61],[.18,.59],[.23,.59],
[.16,.51],[.18,.52],[.19,.5],[.21,.51],[.23,.52],[.25,.5],[.17,.48],[.2,.48],[.24,.49],[.18,.4],[.21,.41],[.18,.33],[.19,.28],[.26,.31],
[.16,.19],[.17,.2],[.24,.21],[.17,.1],[.19,.12],[.22,.1],[.24,.09],[.17,-.02],[.19,0],
[.43,.99],[.4,.92],[.37,.81],[.39,.82],[.41,.81],[.43,.82],[.38,.79],[.38,.69],[.44,.7],[.45,.68],[.39,.59],[.4,.6],[.43,.61],[.44,.62],
[.37,.51],[.38,.52],[.4,.5],[.42,.51],[.44,.5],[.46,.51],[.41,.48],[.41,.42],[.43,.4],[.44,.39],[.37,.29],[.38,.3],[.4,.31],[.42,.3],[.43,.3],
[.37,.19],[.38,.2],[.45,.22],[.36,.08],[.38,0],[.39,-.01],
[.56,.61],[.61,.61],[.56,.52],[.61,.51],[.63,.52],[.65,.51],[.57,.29],[.64,.31],[.57,.2],[.63,.18],[.63,.11],[.64,0],
[.78,.99],[.82,.51],[.85,.51],[.75,.42],[.78,.39],[.81,.4],[.84,.3],[.82,.22],[.84,.01],
[1.03,.99],[1.02,.71],[1.02,.61],[.97,.51]];

const pointSets = [P_BE,P_CH,P_CZ,P_DE,P_EE,P_ES,P_FI,P_FR,P_GB,P_IE,P_IL,P_IS,P_IT,P_LT,P_NL,P_NO,P_PL,P_PT,P_RU,P_SE,P_SI];

// fitted lines: values at the left and right edges of each panel
const completePooling = [0.445, 0.600];
const noPoolingLeft  = [.482,.421,.48,.421,.51,.455,.497,.455,.436,.477,.497,.47,.477,.503,.462,.458,.527,.47,.488,.477,.473];
const noPoolingRight = [.589,.621,.715,.477,.66,.397,.78,.527,.629,.583,.548,.639,.488,.629,.617,.689,.406,.644,.582,.755,.497];
const partialLeft    = [.468,.367,.447,.382,.542,.473,.508,.432,.382,.492,.515,.477,.492,.55,.439,.424,.603,.455,.521,.458,.497];
const partialRight   = [.585,.598,.708,.462,.674,.386,.788,.518,.603,.594,.564,.648,.485,.655,.598,.662,.432,.629,.589,.739,.488];

const xExtent = [0.115, 1.092];
const yExtent = [-0.071, 1.068];
const yMajor = [0, 0.25, 0.5, 0.75, 1];
const yMinor = [0.125, 0.375, 0.625, 0.875];
const xMajor = [1];

const FONT = '"Liberation Serif","Times New Roman",serif';
const colLeft = [104.5, 838, 1571.5], W = 717.5, H = 250.7, row0 = 105.3, rowStep = 310.7;

const chart = echarts.init(document.getElementById('c'), null, {renderer: 'canvas', width: 2304, height: 2304});
const grid = [], xAxis = [], yAxis = [], series = [], graphic = [];

countries.forEach((name, i) => {
  const r = Math.floor(i / 3), c = i % 3;
  const top = row0 + r * rowStep, left = colLeft[c];
  grid.push({left: left, top: top, width: W, height: H, show: true, borderColor: '#333333', borderWidth: 1.3, backgroundColor: '#ffffff', z: 0});
  xAxis.push({gridIndex: i, type: 'value', min: xExtent[0], max: xExtent[1],
    axisLine: {show: false}, splitLine: {show: false},
    axisTick: {show: r === 6, customValues: xMajor, length: 7, lineStyle: {color: '#333333', width: 1.3}},
    axisLabel: {show: r === 6, customValues: xMajor, formatter: v => String(v), color: '#4D4D4D', fontFamily: FONT, fontSize: 23.5, margin: 8}});
  yAxis.push({gridIndex: i, type: 'value', min: yExtent[0], max: yExtent[1],
    axisLine: {show: false}, splitLine: {show: false},
    axisTick: {show: c === 0, customValues: yMajor, length: 7, lineStyle: {color: '#333333', width: 1.3}},
    axisLabel: {show: c === 0, customValues: yMajor, formatter: v => v.toFixed(2), color: '#4D4D4D', fontFamily: FONT, fontSize: 23.5, margin: 6}});
  // panel grid lines, drawn underneath the points
  const gl = [];
  yMinor.forEach(v => gl.push({coords: [[xExtent[0], v], [xExtent[1], v]], lineStyle: {color: '#EBEBEB', width: 1.2, opacity: 1}}));
  yMajor.forEach(v => gl.push({coords: [[xExtent[0], v], [xExtent[1], v]], lineStyle: {color: '#EBEBEB', width: 2.4, opacity: 1}}));
  xMajor.forEach(v => gl.push({coords: [[v, yExtent[0]], [v, yExtent[1]]], lineStyle: {color: '#EBEBEB', width: 2.4, opacity: 1}}));
  series.push({type: 'lines', coordinateSystem: 'cartesian2d', xAxisIndex: i, yAxisIndex: i, silent: true, z: 1,
    symbol: ['none', 'none'], effect: {show: false}, lineStyle: {curveness: 0}, data: gl});
  series.push({type: 'scatter', xAxisIndex: i, yAxisIndex: i, data: pointSets[i], symbolSize: 11, silent: true, z: 2,
    itemStyle: {color: '#000000', opacity: 1}});
  const mk = (a, b, color, z) => ({type: 'line', xAxisIndex: i, yAxisIndex: i, z: z, silent: true, showSymbol: false, symbol: 'none',
    data: [[xExtent[0], a], [xExtent[1], b]], lineStyle: {color: color, width: 3}});
  series.push(mk(completePooling[0], completePooling[1], '#FF0000', 3));
  series.push(mk(noPoolingLeft[i], noPoolingRight[i], '#0000FF', 4));
  series.push(mk(partialLeft[i], partialRight[i], '#00FF00', 5));
  graphic.push({type: 'rect', shape: {x: left, y: top - 44, width: W, height: 42},
    style: {fill: '#D9D9D9', stroke: '#333333', lineWidth: 1.3}, silent: true});
  graphic.push({type: 'text', x: left + W / 2, y: top - 23,
    style: {text: name, font: '23.5px ' + FONT, fill: '#1A1A1A', textAlign: 'center', textVerticalAlign: 'middle', align: 'center', verticalAlign: 'middle'}, silent: true});
});

graphic.push({type: 'text', x: 103, y: 27,
  style: {text: 'Complete-pooling, No-pooling, and Partial pooling estimates', font: '35.5px ' + FONT, fill: '#000000', textAlign: 'left', textVerticalAlign: 'middle', align: 'left', verticalAlign: 'middle'}});
graphic.push({type: 'text', x: 27, y: 1162, rotation: Math.PI / 2,
  style: {text: 'Left-Right Spectrum', font: '29.5px ' + FONT, fill: '#000000', textAlign: 'center', textVerticalAlign: 'middle', align: 'center', verticalAlign: 'middle'}});
graphic.push({type: 'text', x: 1196.6, y: 2272,
  style: {text: 'Government should reduce income differences', font: '29.5px ' + FONT, fill: '#000000', textAlign: 'center', textVerticalAlign: 'middle', align: 'center', verticalAlign: 'middle'}});

chart.setOption({animation: false, backgroundColor: '#ffffff', grid, xAxis, yAxis, series, graphic});
</script>
</body></html>
